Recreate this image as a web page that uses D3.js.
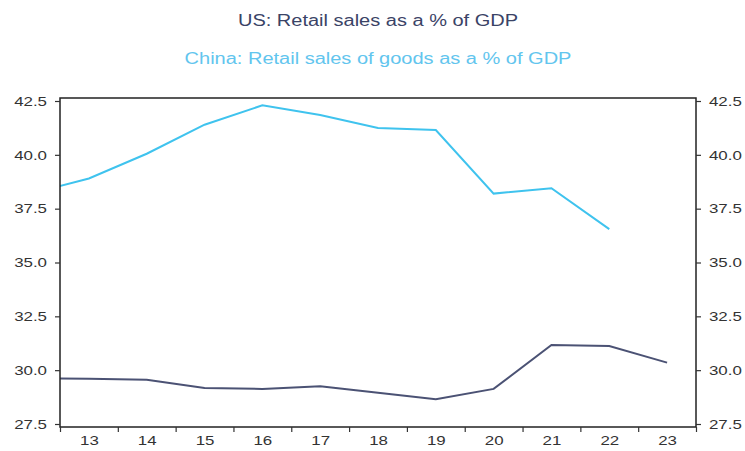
<!DOCTYPE html>
<html>
<head>
<meta charset="utf-8">
<script src="https://cdn.jsdelivr.net/npm/d3@7"></script>
<style>
  html, body { margin: 0; padding: 0; background: #fff; }
  svg { display: block; font-family: "Liberation Sans", Arial, sans-serif; }
</style>
</head>
<body>
<svg id="chart" width="745" height="451"></svg>
<script>
// Years (two-digit labels); each value sits at the middle of its year
const years = [12, 13, 14, 15, 16, 17, 18, 19, 20, 21, 22, 23];
const usRetail = [29.63, 29.6, 29.55, 29.17, 29.13, 29.25, 28.95, 28.65, 29.13, 31.17, 31.12, 30.35];
const chinaYears = [12, 13, 14, 15, 16, 17, 18, 19, 20, 21, 22];
const chinaRetail = [38.2, 38.9, 40.05, 41.4, 42.3, 41.85, 41.25, 41.15, 38.2, 38.45, 36.55];
const yTicks = [27.5, 30.0, 32.5, 35.0, 37.5, 40.0, 42.5];
const xTickYears = [13, 14, 15, 16, 17, 18, 19, 20, 21, 22, 23, 24];
const xLabelYears = [13, 14, 15, 16, 17, 18, 19, 20, 21, 22, 23];

const usColor = "#4b5274";
const chinaColor = "#3fc3ee";
const usTitleColor = "#3a4366";
const chinaTitleColor = "#62c5ee";
const textColor = "#333";
const stretch = 1.25; // text is drawn horizontally widened

const svg = d3.select("#chart");
const frame = { left: 60, right: 696, top: 98, bottom: 427 };

const x = d3.scaleLinear().domain([13, 24]).range([frame.left, frame.right]);
// 42.5 and 27.5 sit a little inside the frame
const y = d3.scaleLinear().domain([27.5, 42.5]).range([424, 101]);

// Titles
function stretchedText(sel, tx, ty, str, size, color) {
  return sel.append("text")
    .attr("transform", `translate(${tx},${ty}) scale(${stretch},1)`)
    .attr("text-anchor", "middle")
    .attr("font-size", size)
    .attr("fill", color)
    .text(str);
}
const cx = (frame.left + frame.right) / 2;
stretchedText(svg, cx, 26, "US: Retail sales as a % of GDP", 16, usTitleColor);
stretchedText(svg, cx, 64, "China: Retail sales of goods as a % of GDP", 16, chinaTitleColor);

// Clip for the series
svg.append("clipPath").attr("id", "plotClip")
  .append("rect")
  .attr("x", frame.left).attr("y", frame.top)
  .attr("width", frame.right - frame.left)
  .attr("height", frame.bottom - frame.top);

const line = d3.line()
  .x(d => x(d[0] + 0.5))
  .y(d => y(d[1]));

const series = svg.append("g").attr("clip-path", "url(#plotClip)");
series.append("path")
  .datum(chinaYears.map((yr, i) => [yr, chinaRetail[i]]))
  .attr("d", line)
  .attr("fill", "none")
  .attr("stroke", chinaColor)
  .attr("stroke-width", 2);
series.append("path")
  .datum(years.map((yr, i) => [yr, usRetail[i]]))
  .attr("d", line)
  .attr("fill", "none")
  .attr("stroke", usColor)
  .attr("stroke-width", 2);

// Frame
svg.append("rect")
  .attr("x", frame.left).attr("y", frame.top)
  .attr("width", frame.right - frame.left)
  .attr("height", frame.bottom - frame.top)
  .attr("fill", "none")
  .attr("stroke", "#222")
  .attr("stroke-width", 1.5);

// Axes
function styleAxis(g) {
  g.select(".domain").remove();
  g.selectAll(".tick line").attr("stroke", "#333").attr("stroke-width", 1.2);
  g.selectAll(".tick text")
    .attr("fill", textColor)
    .attr("font-size", 13.5)
    .attr("font-family", "'Liberation Sans', Arial, sans-serif")
    .each(function () {
      const t = d3.select(this);
      const tx = +t.attr("x") || 0;
      t.attr("x", tx / stretch).attr("transform", `scale(${stretch},1)`);
    });
}

const fmt = d3.format(".1f");
svg.append("g")
  .attr("transform", `translate(${frame.left},0)`)
  .call(d3.axisLeft(y).tickValues(yTicks).tickFormat(fmt).tickSize(5).tickPadding(8))
  .call(styleAxis);

svg.append("g")
  .attr("transform", `translate(${frame.right},0)`)
  .call(d3.axisRight(y).tickValues(yTicks).tickFormat(fmt).tickSize(5).tickPadding(8))
  .call(styleAxis);

// Bottom: tick marks on year boundaries, labels centred in each year
svg.append("g")
  .attr("transform", `translate(0,${frame.bottom})`)
  .call(d3.axisBottom(x).tickValues(xTickYears).tickFormat("").tickSize(5))
  .call(styleAxis);

svg.append("g")
  .attr("transform", `translate(0,${frame.bottom})`)
  .call(d3.axisBottom(x).tickValues(xLabelYears.map(v => v + 0.5)).tickFormat(d => String(Math.floor(d))).tickSize(0).tickPadding(8))
  .call(styleAxis);
</script>
</body>
</html>
